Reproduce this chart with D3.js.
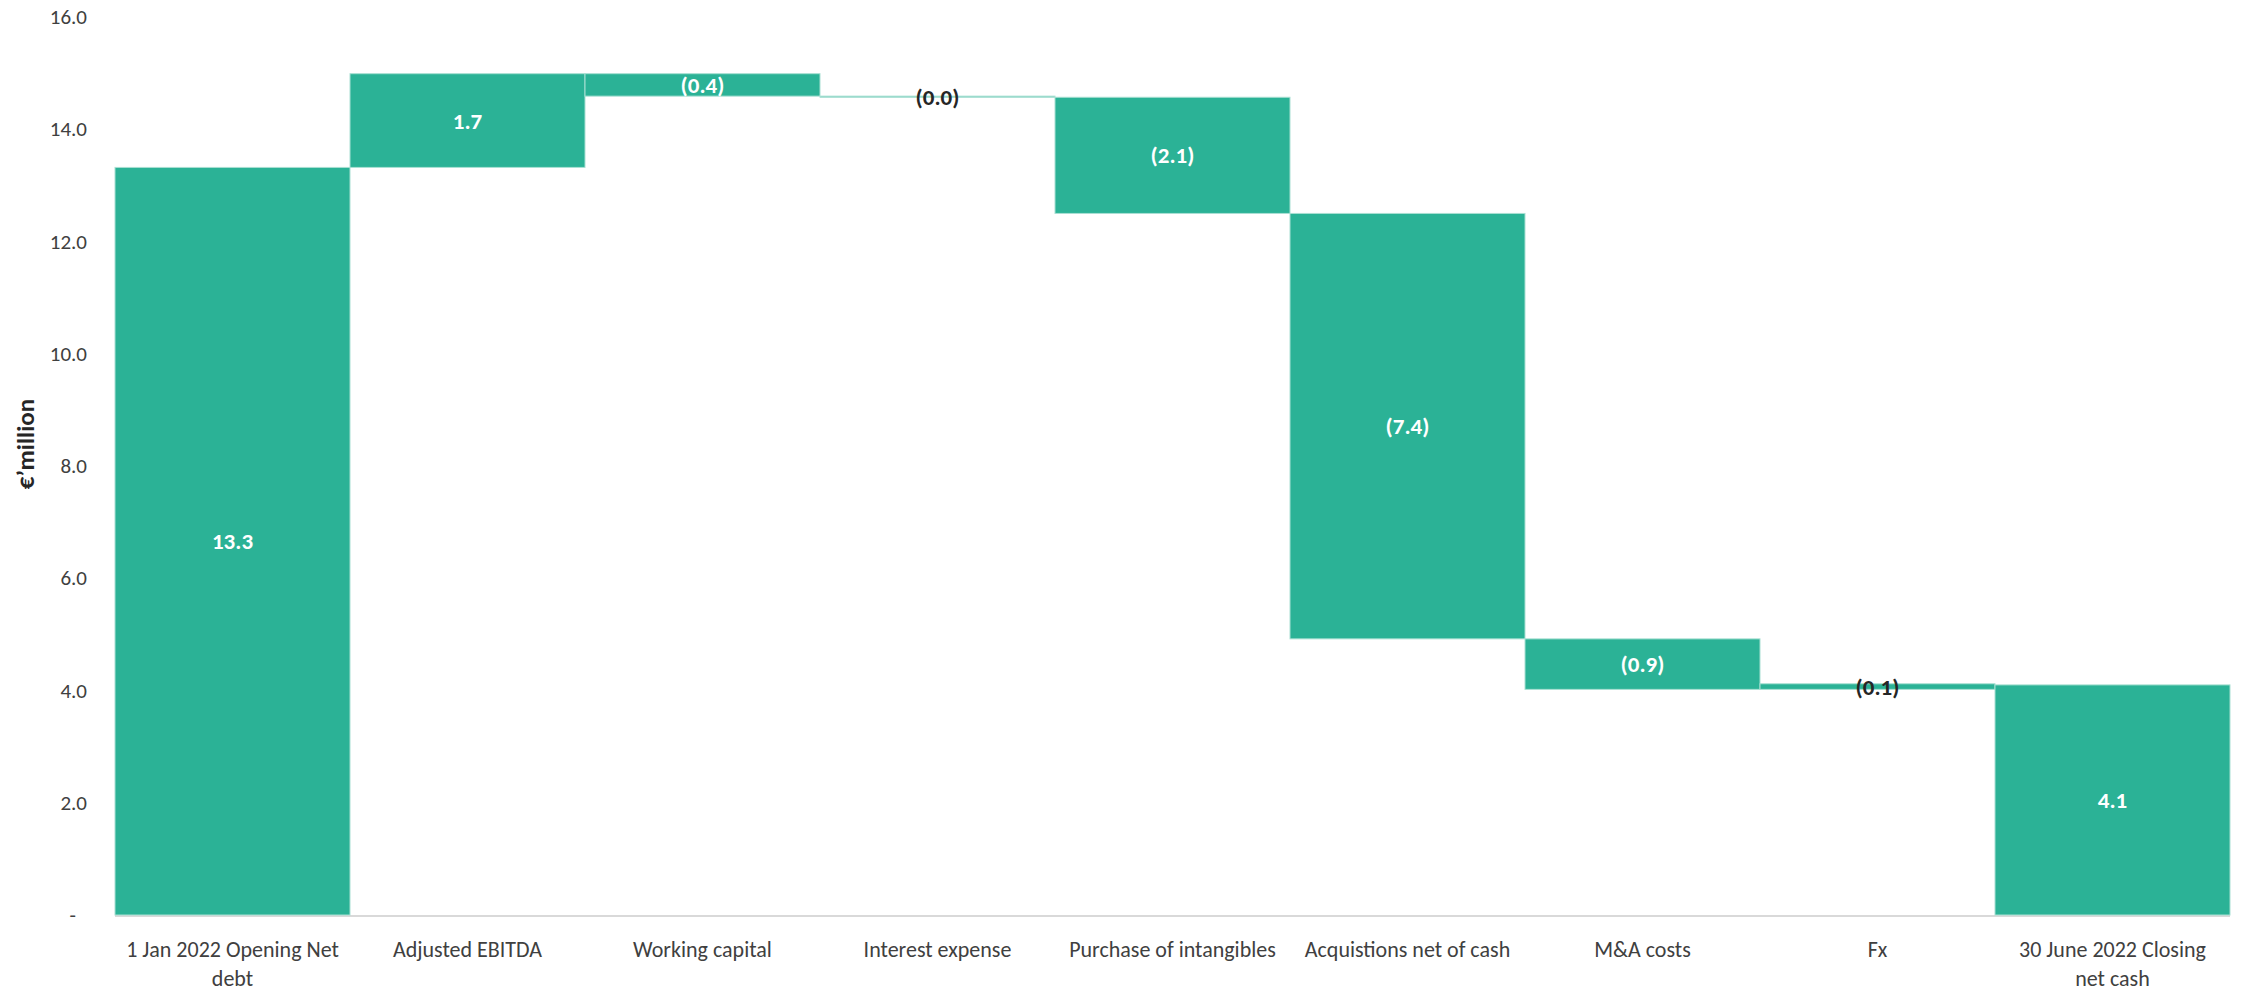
<!DOCTYPE html>
<html lang="en">
<head>
  <meta charset="utf-8">
  <script src="https://d3js.org/d3.v7.min.js"></script>
  <style>
    body { margin: 0; background: #fff; }
    text { font-family: Carlito, Lato, "Open Sans", sans-serif; }
  </style>
</head>
<body>
  <script>
    // Data
    const categories = ["1 Jan 2022 Opening Net debt", "Adjusted EBITDA", "Working capital",
      "Interest expense", "Purchase of intangibles", "Acquistions net of cash",
      "M&A costs", "Fx", "30 June 2022 Closing net cash"];
    const changes = [13.32, 1.67, -0.40, -0.02, -2.07, -7.58, -0.90, 0.10];
    const closing = 4.10;
    const valueLabels = ["13.3", "1.7", "(0.4)", "(0.0)", "(2.1)", "(7.4)", "(0.9)", "(0.1)", "4.1"];
    const darkLabels = ["Interest expense", "Fx"];
    const yTicks = [0, 2, 4, 6, 8, 10, 12, 14, 16];

    // build the floating bars
    const bars = [];
    let run = 0;
    changes.forEach((c, i) => {
      const start = i === 0 ? 0 : run;
      run = start + c;
      bars.push({ cat: categories[i], lo: Math.min(start, run), hi: Math.max(start, run), label: valueLabels[i] });
    });
    bars.push({ cat: categories[8], lo: 0, hi: closing, label: valueLabels[8] });

    const W = 2246, H = 992;
    const svg = d3.select("body").append("svg").attr("width", W).attr("height", H);

    const x = d3.scaleBand().domain(categories).range([115, 2230]).padding(0);
    const y = d3.scaleLinear().domain([0, 16]).range([915, 17]);

    // y axis
    const yAxis = svg.append("g")
      .attr("transform", "translate(87,0)")
      .call(d3.axisLeft(y).tickValues(yTicks).tickSize(0).tickPadding(0)
        .tickFormat(d => d === 0 ? "-" : d.toFixed(1)));
    yAxis.select(".domain").remove();
    yAxis.selectAll("text")
      .attr("font-size", 21).attr("fill", "#404040")
      .attr("font-family", "Carlito, Lato, 'Open Sans', sans-serif")
      .attr("dx", d => d === 0 ? -11 : 0);

    svg.append("text")
      .attr("transform", "translate(34,444) rotate(-90)")
      .attr("text-anchor", "middle")
      .attr("font-size", 25).attr("font-weight", "bold").attr("fill", "#262626")
      .text("€’million");

    // baseline
    svg.append("line")
      .attr("x1", x.range()[0]).attr("x2", x.range()[1])
      .attr("y1", y(0) + 1).attr("y2", y(0) + 1)
      .attr("stroke", "#d9d9d9").attr("stroke-width", 2);

    // bars
    svg.selectAll("rect.bar").data(bars).join("rect")
      .attr("class", "bar")
      .attr("x", d => x(d.cat))
      .attr("width", x.bandwidth())
      .attr("y", d => y(d.hi))
      .attr("height", d => Math.max(y(d.lo) - y(d.hi), 0.5))
      .attr("fill", "#2bb296")
      .attr("stroke", "#a9e0d3").attr("stroke-width", 1);

    // value labels
    svg.selectAll("text.val").data(bars).join("text")
      .attr("class", "val")
      .attr("x", d => x(d.cat) + x.bandwidth() / 2)
      .attr("y", d => (y(d.hi) + y(d.lo)) / 2)
      .attr("dy", "0.35em")
      .attr("text-anchor", "middle")
      .attr("font-size", 23).attr("font-weight", "bold")
      .attr("fill", d => darkLabels.includes(d.cat) ? "#262626" : "#ffffff")
      .text(d => d.label);

    // category labels, wrapped like the original
    const wrapped = {
      "1 Jan 2022 Opening Net debt": ["1 Jan 2022 Opening Net", "debt"],
      "30 June 2022 Closing net cash": ["30 June 2022 Closing", "net cash"]
    };
    const xl = svg.selectAll("text.cat").data(categories).join("text")
      .attr("class", "cat")
      .attr("text-anchor", "middle")
      .attr("font-size", 22).attr("fill", "#404040");
    xl.each(function (d) {
      const lines = wrapped[d] || [d];
      d3.select(this).selectAll("tspan").data(lines).join("tspan")
        .attr("x", x(d) + x.bandwidth() / 2)
        .attr("y", (l, i) => 957 + i * 29)
        .text(l => l);
    });
  </script>
</body>
</html>
